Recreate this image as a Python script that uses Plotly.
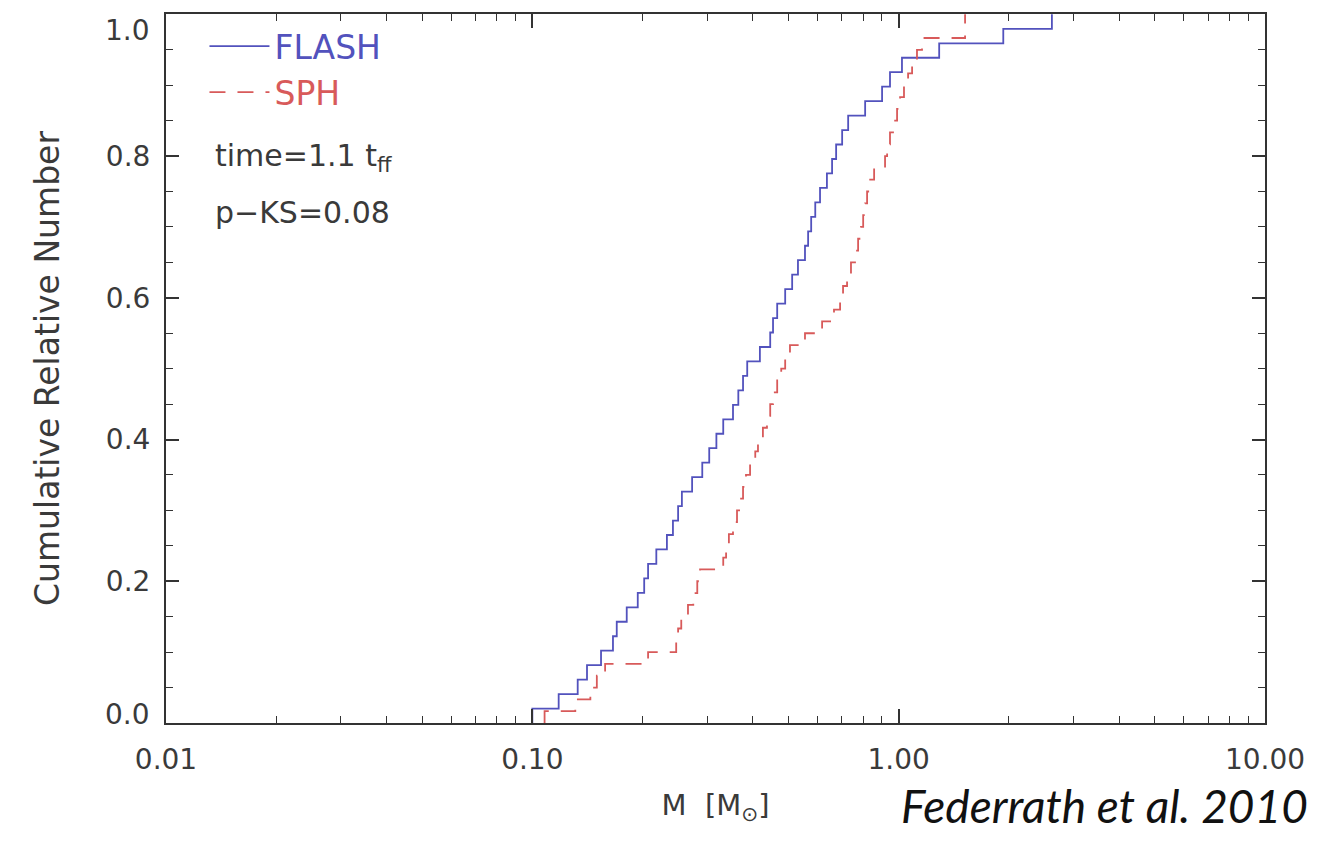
import plotly.graph_objects as go

# Sorted sink-particle masses (M_sun) read from the step positions
flash_masses = [0.100, 0.118, 0.133, 0.141, 0.154, 0.166, 0.170, 0.181, 0.194, 0.202,
                0.207, 0.218, 0.233, 0.242, 0.250, 0.256, 0.273, 0.291, 0.304, 0.318,
                0.332, 0.353, 0.365, 0.376, 0.386, 0.418, 0.446, 0.454, 0.466, 0.490,
                0.512, 0.531, 0.555, 0.566, 0.577, 0.592, 0.610, 0.637, 0.658, 0.675,
                0.701, 0.728, 0.810, 0.901, 0.947, 1.021, 1.29, 1.93, 2.62]

sph_masses = [0.108, 0.131, 0.144, 0.150, 0.158, 0.207, 0.247, 0.250, 0.255, 0.266,
              0.275, 0.282, 0.287, 0.332, 0.338, 0.344, 0.353, 0.362, 0.369, 0.376,
              0.383, 0.393, 0.406, 0.413, 0.426, 0.437, 0.446, 0.454, 0.466, 0.478,
              0.490, 0.505, 0.555, 0.618, 0.666, 0.692, 0.705, 0.723, 0.741, 0.760,
              0.775, 0.789, 0.800, 0.810, 0.820, 0.836, 0.857, 0.918, 0.930, 0.947,
              0.965, 0.990, 1.009, 1.034, 1.061, 1.088, 1.122, 1.158, 1.518, 1.518]

x_tickvals = [0.01, 0.1, 1, 10]
x_ticktext = ["0.01", "0.10", "1.00", "10.00"]
y_tickvals = [0.0, 0.2, 0.4, 0.6, 0.8, 1.0]
y_ticktext = ["0.0", "0.2", "0.4", "0.6", "0.8", "1.0"]


def cumulative(masses):
    n = len(masses)
    xs = [masses[0]] + list(masses)
    ys = [0.0] + [(i + 1) / n for i in range(n)]
    return xs, ys


fx, fy = cumulative(flash_masses)
sx, sy = cumulative(sph_masses)

BLUE = "#5252bd"
RED = "#d85a5a"
AX = "#333333"
TXT = "#3a3a3a"
FONT = "DejaVu Sans"

fig = go.Figure()
fig.add_trace(go.Scatter(x=fx, y=fy, mode="lines", line_shape="hv",
                         line=dict(color=BLUE, width=1.8),
                         name='<span style="color:%s">FLASH</span>' % BLUE))
fig.add_trace(go.Scatter(x=sx, y=sy, mode="lines", line_shape="hv",
                         line=dict(color=RED, width=1.8, dash="16px,12px"),
                         name='<span style="color:%s">SPH</span>' % RED))

minor_x = [k * 10 ** e for e in (-2, -1, 0) for k in range(2, 10)]

# interior labels drawn by the axis; the two end labels sit slightly inward (as in IDL)
axis_text = [t if 0 < i < len(y_ticktext) - 1 else "" for i, t in enumerate(y_ticktext)]

fig.update_xaxes(type="log", range=[-2, 1], tickvals=x_tickvals, ticktext=x_ticktext,
                 automargin=False,
                 ticks="inside", ticklen=14, tickwidth=1.5, tickcolor=AX,
                 showline=True, linecolor=AX, linewidth=2, mirror="ticks",
                 showgrid=False, zeroline=False,
                 minor=dict(tickvals=minor_x, ticks="inside", ticklen=7,
                            tickwidth=1.2, tickcolor=AX, showgrid=False),
                 tickfont=dict(family=FONT, size=28, color=TXT),
                 ticklabelstandoff=10,
                 title=dict(text="M  [M<sub>⊙</sub>]", standoff=20,
                            font=dict(family=FONT, size=29, color=TXT)))
fig.update_yaxes(range=[0, 1.0005], tickvals=y_tickvals, ticktext=axis_text,
                 automargin=False, ticklabeloverflow="allow",
                 ticks="inside", ticklen=13, tickwidth=1.5, tickcolor=AX,
                 showline=True, linecolor=AX, linewidth=2, mirror="ticks",
                 showgrid=False, zeroline=False,
                 minor=dict(dtick=0.05, ticks="inside", ticklen=7,
                            tickwidth=1.2, tickcolor=AX, showgrid=False),
                 tickfont=dict(family=FONT, size=28, color=TXT),
                 ticklabelstandoff=8,
                 title=dict(text="Cumulative Relative Number", standoff=36,
                            font=dict(family=FONT, size=33, color=TXT)))

for val, txt, shift in ((y_tickvals[0], y_ticktext[0], 9), (y_tickvals[-1], y_ticktext[-1], -16)):
    fig.add_annotation(text=txt, xref="paper", yref="y", x=0, y=val,
                       xanchor="right", yanchor="middle", xshift=-14, yshift=shift,
                       showarrow=False, font=dict(family=FONT, size=28, color=TXT))

fig.add_annotation(text="time=1.1 t<sub>ff</sub>", xref="paper", yref="paper",
                   x=0.043, y=0.797, xanchor="left", yanchor="middle", showarrow=False,
                   font=dict(family=FONT, size=30, color=TXT))
fig.add_annotation(text="p−KS=0.08", xref="paper", yref="paper",
                   x=0.043, y=0.72, xanchor="left", yanchor="middle", showarrow=False,
                   font=dict(family=FONT, size=30, color=TXT))
fig.add_annotation(text="<i>Federrath et al. 2010</i>", xref="paper", yref="paper",
                   x=1.041, y=-0.117, xanchor="right", yanchor="middle", showarrow=False,
                   font=dict(family="Lato", size=46, color="#111111"))

fig.update_layout(width=1329, height=843,
                  margin=dict(l=158, r=72, t=6, b=128, autoexpand=False),
                  paper_bgcolor="white", plot_bgcolor="white",
                  showlegend=True,
                  legend=dict(x=0.035, y=0.994, xanchor="left", yanchor="top",
                              bgcolor="rgba(0,0,0,0)", tracegroupgap=0,
                              font=dict(family=FONT, size=33, color=TXT),
                              itemwidth=60))

fig.write_html("out.html")
